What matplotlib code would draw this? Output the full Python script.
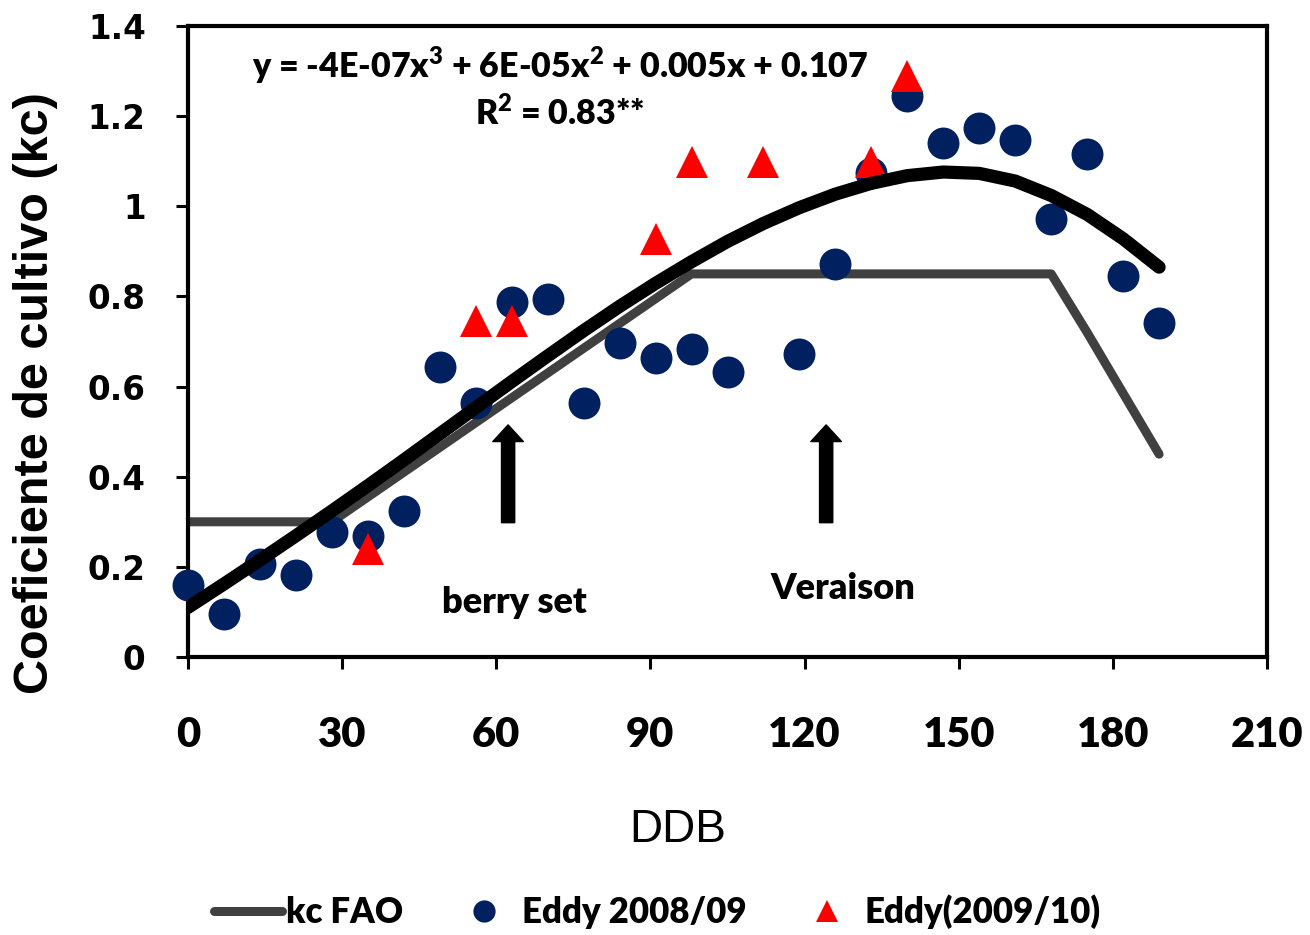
import matplotlib
matplotlib.use("Agg")
import matplotlib.pyplot as plt
from matplotlib.lines import Line2D
from matplotlib.ticker import FuncFormatter

NARROW = "Lato"
WEIGHT = "heavy"
plt.rcParams["mathtext.fontset"] = "custom"
plt.rcParams["mathtext.rm"] = f"{NARROW}:{WEIGHT}"
plt.rcParams["mathtext.bf"] = f"{NARROW}:{WEIGHT}"

# Days after budbreak (DDB) and crop coefficients
fao_ddb = [0, 28, 98, 168, 175, 182, 189]
fao_kc = [0.30, 0.30, 0.85, 0.85, 0.72, 0.585, 0.45]

eddy08_ddb = [0, 7, 14, 21, 28, 35, 42, 49, 56, 63, 70, 77, 84, 91, 98, 105,
              119, 126, 133, 140, 147, 154, 161, 168, 175, 182, 189]
eddy08_kc = [0.16, 0.095, 0.206, 0.183, 0.278, 0.268, 0.324, 0.644, 0.563,
             0.787, 0.794, 0.564, 0.696, 0.663, 0.683, 0.632, 0.672, 0.873,
             1.073, 1.245, 1.140, 1.173, 1.147, 0.971, 1.117, 0.846, 0.742]

eddy09_ddb = [35, 56, 63, 91, 98, 112, 133, 140]
eddy09_kc = [0.24, 0.745, 0.745, 0.928, 1.098, 1.098, 1.099, 1.288]

trend_ddb = [0, 7, 14, 21, 28, 35, 42, 49, 56, 63, 70, 77, 84, 91, 98, 105,
             112, 119, 126, 133, 140, 147, 154, 161, 168, 175, 182, 189]
trend_kc = [0.11, 0.162, 0.215, 0.269, 0.324, 0.380, 0.437, 0.495, 0.553,
            0.611, 0.668, 0.724, 0.778, 0.829, 0.877, 0.922, 0.962, 0.997,
            1.027, 1.051, 1.068, 1.076, 1.073, 1.056, 1.024, 0.982, 0.928,
            0.865]

x_ticks = [0, 30, 60, 90, 120, 150, 180, 210]
y_ticks = [0, 0.2, 0.4, 0.6, 0.8, 1.0, 1.2, 1.4]

equation = r"y = -4E-07x$^{3}$ + 6E-05x$^{2}$ + 0.005x + 0.107"
r2_text = r"R$^{2}$ = 0.83**"
stages = [("berry set", 62.3, 63.6, 0.122), ("Veraison", 124.2, 127.5, 0.151)]

BLUE = "#002060"
RED = "#FF0000"
GREY = "#404040"

fig = plt.figure(figsize=(13.1, 9.35), dpi=100)
ax = fig.add_axes([188 / 1310, (935 - 657) / 935, 1079 / 1310, 631 / 935])

ax.plot(fao_ddb, fao_kc, color=GREY, lw=6.5, solid_capstyle="round",
        solid_joinstyle="round", zorder=2)
ax.plot(eddy08_ddb, eddy08_kc, ls="none", marker="o", ms=23, color=BLUE,
        mec=BLUE, mew=0, clip_on=False, zorder=3)
ax.plot(eddy09_ddb, eddy09_kc, ls="none", marker="^", ms=23, color=RED,
        mec=RED, mew=0, clip_on=False, zorder=4)
ax.plot(trend_ddb, trend_kc, color="black", lw=9.5, solid_capstyle="round",
        solid_joinstyle="round", zorder=5)

# Phenological stage arrows and labels
for label, xa, xt, yt in stages:
    ax.annotate("", xy=(xa, 0.515), xytext=(xa, 0.298),
                arrowprops=dict(facecolor="black", edgecolor="black",
                                width=9.5, headwidth=22, headlength=12,
                                shrink=0), zorder=6)
    ax.text(xt, yt, label, ha="center", va="center", fontsize=26,
            fontfamily=NARROW, fontweight=WEIGHT, zorder=6)

ax.text(72.4, 1.313, equation, ha="center", va="center", fontsize=24.5,
        fontfamily=NARROW, fontweight=WEIGHT, zorder=6)
ax.text(72.4, 1.207, r2_text, ha="center", va="center", fontsize=24.5,
        fontfamily=NARROW, fontweight=WEIGHT, zorder=6)

ax.set_xlim(0, 210)
ax.set_ylim(0, 1.4)
ax.set_xticks(x_ticks)
ax.set_yticks(y_ticks)
ax.yaxis.set_major_formatter(FuncFormatter(lambda v, p: f"{v:g}"))

for sp in ax.spines.values():
    sp.set_linewidth(3)
ax.tick_params(axis="both", direction="out", length=8.5, width=2.2)
ax.tick_params(axis="y", pad=22)
ax.tick_params(axis="x", pad=34)
for t in ax.get_yticklabels():
    t.set_fontfamily("DejaVu Sans")
    t.set_fontweight("bold")
    t.set_fontsize(23.5)
for t in ax.get_xticklabels():
    t.set_fontfamily(NARROW)
    t.set_fontweight(WEIGHT)
    t.set_fontsize(30)

fig.text(36 / 1310, 1 - 393 / 935, "Coeficiente de cultivo (kc)",
         rotation=90, ha="center", va="center", fontsize=35,
         fontfamily="Liberation Sans", fontweight="bold")
fig.text(678 / 1310, 1 - 830 / 935, "DDB", ha="center", va="center",
         fontsize=33, fontfamily="Liberation Sans")

handles = [
    Line2D([], [], color=GREY, lw=6.5, solid_capstyle="round"),
    Line2D([], [], ls="none", marker="o", ms=16, color=BLUE, mew=0),
    Line2D([], [], ls="none", marker="^", ms=16, color=RED, mew=0),
]
labels = ["kc FAO", "Eddy 2008/09", "Eddy(2009/10)"]
fig.legend(handles, labels, loc="center", bbox_to_anchor=(657.5 / 1310, 1 - 912 / 935),
           ncol=3, frameon=False, handlelength=1.96, handletextpad=0.12,
           columnspacing=1.33, borderpad=0,
           prop=dict(family=NARROW, weight=WEIGHT, size=25))

fig.savefig("out.png", dpi=100)
